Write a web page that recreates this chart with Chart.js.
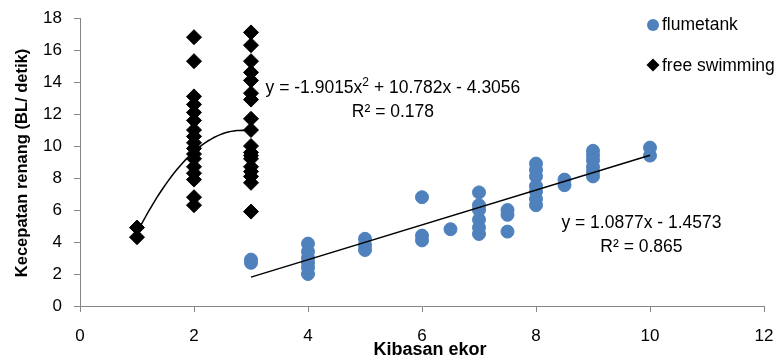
<!DOCTYPE html>
<html>
<head>
<meta charset="utf-8">
<script src="https://cdn.jsdelivr.net/npm/chart.js@4/dist/chart.umd.min.js"></script>
<style>
	html, body { margin: 0; padding: 0; background: #fff; }
	#wrap { width: 774px; height: 361px; position: relative; }
</style>
</head>
<body>
<div id="wrap"><canvas id="chart"></canvas></div>
<script>
// flumetank: x = kibasan ekor, y = kecepatan renang
const flumeX = [3, 3, 4, 4, 4, 4, 4, 4, 5, 5, 5, 6, 6, 6, 6.5, 7, 7, 7, 7, 7, 7, 7.5, 7.5, 7.5, 8, 8, 8, 8, 8, 8, 8, 8.5, 8.5, 9, 9, 9, 9, 9, 9, 10, 10];
const flumeY = [2.9, 2.7, 3.9, 3.4, 3.0, 2.7, 2.4, 2.0, 4.2, 3.8, 3.5, 6.8, 4.4, 4.1, 4.8, 7.1, 6.3, 6.0, 5.4, 4.9, 4.5, 6.0, 5.7, 4.65, 8.9, 8.5, 8.1, 7.5, 7.15, 6.7, 6.3, 7.9, 7.55, 9.7, 9.4, 9.1, 8.7, 8.4, 8.1, 9.9, 9.4];

// free swimming
const freeX = [1, 1, 2, 2, 2, 2, 2, 2, 2, 2, 2, 2, 2, 2, 2, 2, 2, 2, 2, 3, 3, 3, 3, 3, 3, 3, 3, 3, 3, 3, 3, 3, 3, 3, 3, 3, 3];
const freeY = [4.9, 4.3, 16.8, 15.3, 13.1, 12.6, 12.1, 11.6, 11.0, 10.6, 10.2, 9.85, 9.5, 9.2, 8.7, 8.3, 7.9, 6.8, 6.3, 17.1, 16.3, 15.3, 14.6, 14.1, 13.3, 12.9, 11.7, 11.0, 10.0, 9.6, 9.4, 9.2, 8.7, 8.4, 8.1, 7.7, 5.9];

// trendline coefficients as shown on the chart
const freePoly = [-4.3056, 10.782, -1.9015]; // c0 + c1 x + c2 x^2, x 1..3
const flumeLin = [-1.4573, 1.0877];          // c0 + c1 x, x 3..10

const xTicks = [0, 2, 4, 6, 8, 10, 12];
const yTicks = [0, 2, 4, 6, 8, 10, 12, 14, 16, 18];

const BLUE = "#4F81BD";
const GREY = "#868686";
const FONT = "'Liberation Sans', Arial, sans-serif";
const TXT = "17.5px " + FONT;

function pts(xs, ys) {
	return xs.map((x, i) => ({ x: x, y: ys[i] }));
}

function curve(c, from, to, step) {
	const out = [];
	for (let x = from; x <= to + 1e-9; x += step) {
		out.push({ x: x, y: c.reduce((s, k, i) => s + k * Math.pow(x, i), 0) });
	}
	return out;
}

const labelsPlugin = {
	id: "labels",
	afterDraw(chart) {
		const { ctx, scales, chartArea } = chart;
		const xs = scales.x, ys = scales.y;
		ctx.save();
		ctx.fillStyle = "#000";
		ctx.textBaseline = "middle";

		// polynomial equation with superscript 2
		const cx = xs.getPixelForValue(5.49), cy = ys.getPixelForValue(13.63);
		const a = "y = -1.9015x", b = " + 10.782x - 4.3056";
		ctx.font = TXT;
		const wa = ctx.measureText(a).width, wb = ctx.measureText(b).width;
		ctx.font = "12px " + FONT;
		const ws = ctx.measureText("2").width;
		const x0 = cx - (wa + wb + ws) / 2;
		ctx.textAlign = "left";
		ctx.font = TXT;
		ctx.fillText(a, x0, cy);
		ctx.font = "12px " + FONT;
		ctx.fillText("2", x0 + wa, cy - 5);
		ctx.font = TXT;
		ctx.fillText(b, x0 + wa + ws, cy);
		ctx.textAlign = "center";
		ctx.fillText("R² = 0.178", cx, ys.getPixelForValue(12.14));

		const lx = xs.getPixelForValue(9.85);
		ctx.fillText("y = 1.0877x - 1.4573", lx, ys.getPixelForValue(5.19));
		ctx.fillText("R² = 0.865", lx, ys.getPixelForValue(3.69));

		// legend
		ctx.textAlign = "left";
		ctx.fillStyle = BLUE;
		ctx.beginPath();
		ctx.arc(653, 25, 6, 0, Math.PI * 2);
		ctx.fill();
		ctx.fillStyle = "#000";
		ctx.beginPath();
		ctx.moveTo(653, 58.5); ctx.lineTo(659.5, 65); ctx.lineTo(653, 71.5); ctx.lineTo(646.5, 65);
		ctx.closePath();
		ctx.fill();
		ctx.fillText("flumetank", 662, 25);
		ctx.fillText("free swimming", 662, 66);

		// axis titles
		ctx.textAlign = "center";
		ctx.font = "bold 18px " + FONT;
		ctx.fillText("Kibasan ekor", 430, 350);
		ctx.translate(22, (chartArea.top + chartArea.bottom) / 2 + 1);
		ctx.rotate(-Math.PI / 2);
		ctx.font = "bold 16.5px " + FONT;
		ctx.fillText("Kecepatan renang (BL/ detik)", 0, 0);
		ctx.restore();
	},
};

new Chart(document.getElementById("chart"), {
	type: "scatter",
	data: {
		datasets: [
			{
				label: "flumetank trend",
				data: curve(flumeLin, 3, 10, 7),
				showLine: true,
				borderColor: "#000",
				borderWidth: 1.5,
				pointRadius: 0,
				order: 1,
			},
			{
				label: "free swimming trend",
				data: curve(freePoly, 1, 3, 0.05),
				showLine: true,
				borderColor: "#000",
				borderWidth: 1.5,
				pointRadius: 0,
				order: 1,
			},
			{
				label: "flumetank",
				data: pts(flumeX, flumeY),
				backgroundColor: BLUE,
				borderColor: BLUE,
				pointRadius: 6.5,
				pointHoverRadius: 6.5,
				order: 3,
			},
			{
				label: "free swimming",
				data: pts(freeX, freeY),
				backgroundColor: "#000",
				borderColor: "#000",
				pointStyle: "rectRot",
				pointRadius: 7.5,
				pointHoverRadius: 7.5,
				order: 2,
			},
		],
	},
	options: {
		responsive: true,
		maintainAspectRatio: false,
		animation: false,
		layout: { padding: { left: 0, right: 10, top: 18, bottom: 0 } },
		plugins: {
			legend: { display: false },
			tooltip: { enabled: false },
		},
		scales: {
			x: {
				min: 0,
				max: 12,
				afterBuildTicks: (s) => { s.ticks = xTicks.map((v) => ({ value: v })); },
				afterFit: (s) => { s.height = 55; s.paddingLeft = 0; s.paddingRight = 0; },
				grid: { drawOnChartArea: false, color: GREY, tickLength: 6 },
				border: { color: GREY },
				ticks: { color: "#000", font: { family: FONT, size: 17 }, padding: 14, maxRotation: 0 },
			},
			y: {
				min: 0,
				max: 18,
				afterBuildTicks: (s) => { s.ticks = yTicks.map((v) => ({ value: v })); },
				afterFit: (s) => { s.width = 80; s.paddingTop = 0; s.paddingBottom = 0; },
				grid: { drawOnChartArea: false, color: GREY, tickLength: 6 },
				border: { color: GREY },
				ticks: { color: "#000", font: { family: FONT, size: 17 }, padding: 12 },
			},
		},
	},
	plugins: [labelsPlugin],
});
</script>
</body>
</html>
